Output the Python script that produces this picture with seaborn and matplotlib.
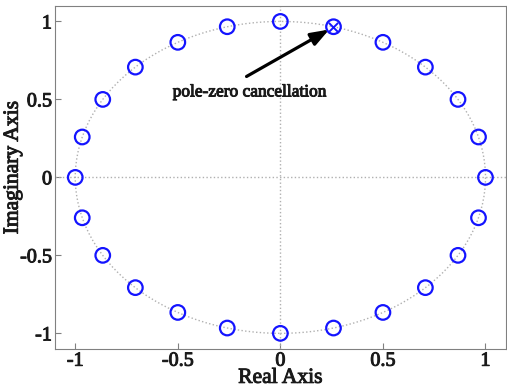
import numpy as np
import pandas as pd
import matplotlib
matplotlib.use('Agg')
import matplotlib.pyplot as plt
import matplotlib.patheffects as pe
import seaborn as sns

# zeros of the system (24 points on the unit circle)
zero_re = [1, 0.966, 0.866, 0.707, 0.5, 0.259, 0, -0.259, -0.5, -0.707, -0.866, -0.966,
           -1, -0.966, -0.866, -0.707, -0.5, -0.259, 0, 0.259, 0.5, 0.707, 0.866, 0.966]
zero_im = [0, 0.259, 0.5, 0.707, 0.866, 0.966, 1, 0.966, 0.866, 0.707, 0.5, 0.259,
           0, -0.259, -0.5, -0.707, -0.866, -0.966, -1, -0.966, -0.866, -0.707, -0.5, -0.259]
# pole
pole_re = [0.259]
pole_im = [0.966]

ticks = [-1, -0.5, 0, 0.5, 1]
tick_labels = ['-1', '-0.5', '0', '0.5', '1']

sns.set_style('ticks')
plt.rcParams['font.family'] = ['Liberation Serif', 'DejaVu Serif']

# slightly heavier strokes than regular, lighter than bold
thick = [pe.withStroke(linewidth=0.7, foreground='#1a1a1a')]

fig = plt.figure(figsize=(5.07, 3.89), dpi=100)
ax = fig.add_axes([0.108, 0.103, 0.89, 0.882])

# unit circle and axes lines
ax.add_patch(plt.Circle((0, 0), 1, fill=False, ls=':', color='#b0b0b0', lw=1))
ax.axhline(0, ls=':', color='#b0b0b0', lw=1)
ax.axvline(0, ls=':', color='#b0b0b0', lw=1)

zeros = pd.DataFrame({'re': zero_re, 'im': zero_im})
poles = pd.DataFrame({'re': pole_re, 'im': pole_im})
sns.scatterplot(data=zeros, x='re', y='im', marker='o', s=110, facecolor='none',
                edgecolor='#1414ff', linewidth=1.6, ax=ax, zorder=3)
sns.scatterplot(data=poles, x='re', y='im', marker='x', s=45, color='#1414ff',
                linewidth=1.4, ax=ax, zorder=4)

ax.text(-0.15, 0.545, 'pole-zero cancellation', ha='center', va='center',
        fontsize=12.5, color='#1a1a1a', path_effects=thick)
ax.annotate('', xy=(0.238, 0.948), xytext=(-0.165, 0.647),
            arrowprops=dict(arrowstyle='-|>,head_length=1.1,head_width=0.4',
                            color='black', lw=2.3, shrinkA=0, shrinkB=0))

ax.set_xlim(-1.1, 1.1)
ax.set_ylim(-1.1, 1.1)
ax.set_xticks(ticks)
ax.set_xticklabels(tick_labels)
ax.set_yticks(ticks)
ax.set_yticklabels(tick_labels)
ax.tick_params(direction='in', length=4, color='#808080', labelsize=14.5, pad=2,
               labelcolor='#1a1a1a')
for lab in ax.get_xticklabels() + ax.get_yticklabels():
    lab.set_path_effects(thick)
for sp in ax.spines.values():
    sp.set_color('#808080')
ax.set_xlabel('Real Axis', fontsize=15.5, color='#1a1a1a', path_effects=thick)
ax.set_ylabel('Imaginary Axis', fontsize=15.5, color='#1a1a1a', path_effects=thick)
ax.xaxis.set_label_coords(0.5, -0.058)
ax.yaxis.set_label_coords(-0.071, 0.528)

fig.savefig('out.png', dpi=100)
